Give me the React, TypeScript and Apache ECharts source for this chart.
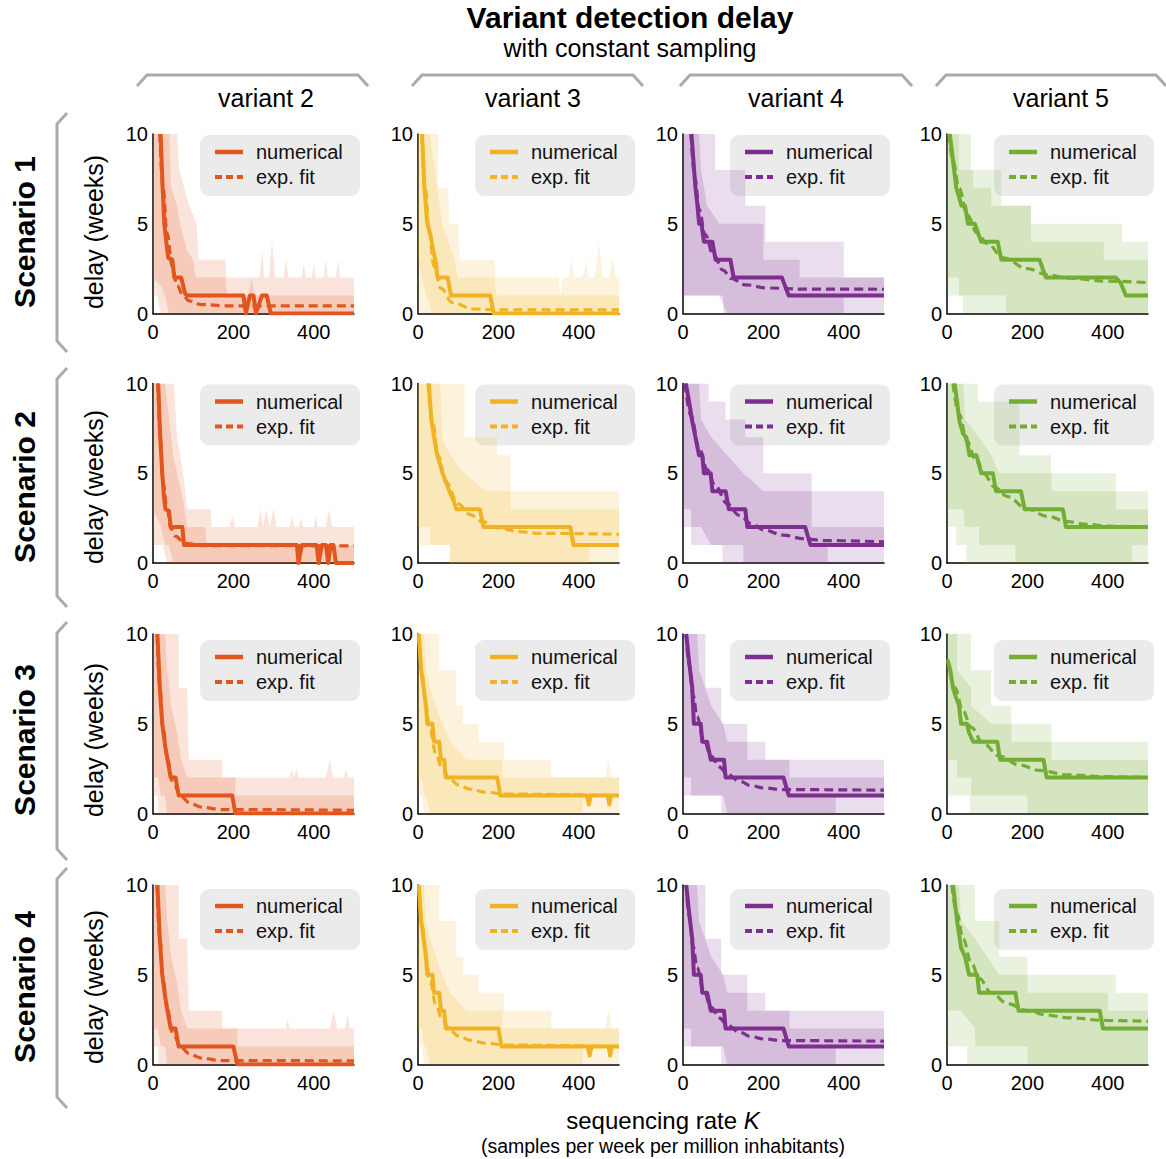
import React, { useEffect, useRef } from "react";
import * as echarts from "echarts";

const FONT = "'Liberation Sans', Arial, Helvetica, sans-serif";

const TITLE = "Variant detection delay";
const SUBTITLE = "with constant sampling";
const VARIANTS = ["variant 2", "variant 3", "variant 4", "variant 5"];
const SCENARIOS = ["Scenario 1", "Scenario 2", "Scenario 3", "Scenario 4"];
const Y_LABEL = "delay (weeks)";
const X_LABEL_MAIN = "sequencing rate ";
const X_LABEL_VAR = "K";
const X_LABEL_SUB = "(samples per week per million inhabitants)";
const LEGEND_NUM = "numerical";
const LEGEND_FIT = "exp. fit";
const COLORS = ["#E1561F", "#F0B323", "#7E2E8E", "#74AD34"];
const X_MIN = 0, X_MAX = 500, X_STEP = 200;
const Y_MIN = 0, Y_MAX = 10, Y_STEP = 5;

// ---------- Scenario 1 ----------
const s1v2Num = [[19,10],[24,7],[28,5],[33,4],[38,3.1],[48,3],[53,2],[70,2],[80,1.1],[85,1],[225,1],[231,0],[241,1],[250,1],[256,0],[271,1],[283,1],[293,0],[500,0]];
const s1v2Fit = [[17,10],[25,7],[35,4.5],[48,2.6],[60,1.55],[75,1],[90,0.7],[120,0.5],[180,0.43],[500,0.42]];
const s1v2Outer = [[0,1,10],[10,1,10],[19,0,10],[60,0,10],[65,0,8],[90,0,6],[108,0,5],[114,0,3],[180,0,3],[182,0,2],[265,0,2],[272,0,3.5],[276,0,2],[288,0,2],[296,0,4],[304,0,2],[325,0,2],[331,0,3],[337,0,2],[370,0,2],[375,0,2.8],[380,0,2],[395,0,2],[400,0,2.7],[405,0,2],[425,0,2],[430,0,3],[435,0,2],[455,0,2],[460,0,3],[465,0,2],[500,0,2]];
const s1v2Inner = [[0,2,10],[20,1.5,10],[30,1,10],[40,0,10],[45,0,7],[60,0,6],[67,0,5],[85,0,3.5],[100,0,3],[106,0,2],[180,0,2],[185,0,1],[238,0,1],[245,0,2],[252,0,1],[500,0,1]];

const s1v3Num = [[10,10],[16,7],[23,5],[31,4.4],[38,3.5],[44,2.9],[48,2.1],[52,2],[74,2],[82,1],[180,1],[188,0],[500,0]];
const s1v3Fit = [[10,10],[18,7],[28,4.5],[40,2.6],[57,1.4],[86,0.6],[137,0.25],[200,0.2],[500,0.2]];
const s1v3Outer = [[0,0,10],[50,0,10],[50,0,7],[75,0,7],[78,0,5],[100,0,5],[104,0,3],[190,0,3],[193,0,2],[350,0,2],[355,0,1],[360,0,2],[375,0,2],[382,0,3],[388,0,2],[410,0,2],[418,0,3],[424,0,2],[440,0,2],[450,0,4],[460,0,2],[475,0,2],[484,0,3],[492,0,2],[500,0,2]];
const s1v3Inner = [[0,3,10],[10,2,10],[20,1,10],[30,0.5,10],[35,0,9],[45,0,7.5],[60,0,5],[75,0,4],[90,0,3],[100,0,2],[190,0,2],[195,0,1],[500,0,1]];

const s1v4Num = [[21,10],[26,8.5],[31,7],[36,6],[40,5],[46,5],[52,4],[73,4],[81,3],[118,3],[126,2],[246,2],[263,1],[500,1]];
const s1v4Fit = [[20,10],[30,7.5],[40,5.8],[55,4.4],[75,3.3],[100,2.4],[120,1.95],[155,1.6],[210,1.42],[300,1.36],[500,1.35]];
const s1v4Outer = [[0,1,10],[80,1,10],[80,1,8],[100,1,8],[100,0,8],[155,0,8],[155,0,6],[205,0,6],[205,0,4],[400,0,4],[400,0,2],[500,0,2]];
const s1v4Inner = [[0,1,10],[40,1,10],[45,1,8],[60,1,6],[90,1,5],[110,0,5],[200,0,5],[200,0,3],[290,0,3],[290,0,2],[400,0,2],[400,1,2],[500,1,2]];

const s1v5Num = [[7,10],[15,8.5],[23,7],[30,6.5],[36,6],[45,6],[52,5],[69,5],[77,4.5],[85,4],[126,4],[135,3],[230,3],[246,2],[420,2],[432,1.7],[445,1],[500,1]];
const s1v5Fit = [[5,10],[15,8.5],[30,7],[50,5.5],[75,4.5],[100,3.9],[140,3.1],[200,2.5],[250,2.15],[300,1.97],[400,1.8],[500,1.72]];
const s1v5Outer = [[0,1,10],[40,1,10],[40,0,10],[60,0,10],[60,0,8],[135,0,8],[135,0,6],[209,0,6],[209,0,5],[436,0,5],[436,0,4],[500,0,4]];
const s1v5Inner = [[0,2,10],[30,2,10],[30,1,8],[65,1,8],[65,1,7],[110,1,7],[110,1,6],[147,1,6],[147,0,6],[209,0,6],[209,0,4],[390,0,4],[390,0,3],[500,0,3]];

// ---------- Scenario 2 ----------
const s2v2Num = [[13,10],[18,7],[23,5],[28,3.5],[31,3],[40,2.9],[44,2],[73,2],[77,1],[358,1],[362,0],[370,1],[407,1],[412,0],[420,1],[430,1],[436,0],[442,1],[449,1],[455,0],[500,0]];
const s2v2Fit = [[12,10],[18,7],[25,4.5],[35,3],[45,1.9],[55,1.5],[80,1.1],[120,0.97],[500,0.95]];
const s2v2Outer = [[0,1,10],[25,1,10],[35,0,10],[52,0,10],[60,0,7],[75,0,5],[85,0,3],[143,0,3],[146,0,2],[190,0,2],[197,0,2.6],[204,0,2],[260,0,2],[267,0,3],[274,0,2],[282,0,3],[290,0,2],[300,0,3],[308,0,2],[340,0,2],[346,0,2.6],[352,0,2],[362,0,2],[368,0,2.5],[374,0,2],[400,0,2],[405,0,2.6],[410,0,2],[430,0,2],[438,0,3],[446,0,2],[500,0,2]];
const s2v2Inner = [[0,3,10],[20,2,10],[30,1,10],[40,1,8],[50,0,6],[60,0,5],[75,0,3.5],[85,0,2],[130,0,2],[133,0,1],[500,0,1]];

const s2v3Num = [[27,10],[33,8],[40,7],[48,6],[55,5.5],[61,5],[70,4.5],[78,4],[88,3.5],[95,3],[154,3],[163,2],[379,2],[387,1],[500,1]];
const s2v3Fit = [[25,10],[35,8],[50,6],[70,4.5],[100,3.3],[130,2.7],[160,2.3],[200,1.95],[250,1.75],[300,1.65],[500,1.6]];
const s2v3Outer = [[0,1,10],[78,1,10],[78,0,10],[116,0,10],[116,0,7],[197,0,7],[197,0,6],[230,0,6],[230,0,4],[500,0,4]];
const s2v3Inner = [[0,2,10],[30,2,10],[30,1,10],[55,1,10],[60,1,7],[80,1,6],[80,0,6],[115,0,5],[170,0,4],[230,0,4],[230,0,3],[425,0,3],[425,1,3],[500,1,3]];

const s2v4Num = [[7,10],[15,9],[23,7.9],[31,7],[40,6],[48,6],[52,5],[69,5],[73,4],[106,4],[114,3],[155,3],[160,2],[304,2],[317,1],[500,1]];
const s2v4Fit = [[5,10],[20,8.2],[40,6.4],[60,5.2],[80,4.3],[110,3.3],[140,2.65],[170,2.2],[200,1.85],[250,1.55],[300,1.35],[350,1.25],[500,1.18]];
const s2v4Outer = [[0,2,10],[20,2,10],[20,1,10],[64,1,10],[64,1,9],[98,1,9],[98,0,9],[106,0,9],[106,0,8],[155,0,8],[155,0,7],[200,0,7],[200,0,5],[320,0,5],[320,0,4],[500,0,4]];
const s2v4Inner = [[0,3,10],[20,3,10],[20,2,10],[40,2,10],[45,2,8],[70,1,7],[110,1,6],[150,1,5],[150,0,5],[200,0,4],[320,0,4],[320,0,2],[360,0,2],[360,1,2],[500,1,2]];

const s2v5Num = [[19,10],[25,9],[31,7.9],[40,7.2],[48,7],[52,6.5],[56,6],[73,6],[80,5.5],[85,5],[114,5],[122,4],[184,4],[193,3],[288,3],[296,2],[500,2]];
const s2v5Fit = [[15,10],[30,8.3],[50,6.8],[70,5.8],[90,5],[120,4.2],[150,3.7],[200,3.0],[250,2.6],[300,2.3],[350,2.15],[400,2.05],[500,2.0]];
const s2v5Outer = [[0,2,10],[23,2,10],[23,1,10],[48,1,10],[48,0,10],[77,0,10],[77,0,9],[180,0,9],[180,0,6],[259,0,6],[259,0,5],[420,0,5],[420,0,4],[500,0,4]];
const s2v5Inner = [[0,3,10],[40,3,10],[45,2,8],[80,2,7],[80,1,7],[110,1,6],[130,1,5],[170,1,5],[170,0,5],[260,0,5],[260,0,4],[420,0,4],[420,0,3],[460,0,3],[460,1,3],[500,1,3]];

// ---------- Scenario 3 ----------
const s3v2Num = [[11,10],[17,7],[23,5],[30,3.8],[36,3],[40,2.5],[44,2],[56,2],[64,1],[197,1],[205,0],[500,0]];
const s3v2Fit = [[10,10],[17,7],[25,4.8],[35,3.1],[50,1.7],[70,0.95],[90,0.6],[120,0.35],[170,0.22],[500,0.18]];
const s3v2Outer = [[0,1,10],[13,1,10],[13,0,10],[64,0,10],[64,0,7],[85,0,7],[89,0,3],[172,0,3],[172,0,2],[340,0,2],[345,0,2.5],[350,0,2],[357,0,2.5],[362,0,2],[430,0,2],[440,0,3],[448,0,2],[475,0,2],[480,0,2.5],[485,0,2],[500,0,2]];
const s3v2Inner = [[0,2,10],[12,2,10],[20,1,10],[30,1,10],[35,0,8],[45,0,6],[60,0,4.5],[70,0,3],[85,0,2],[205,0,2],[205,0,1],[500,0,1]];

const s3v3Num = [[2,10],[8,8],[14,7],[20,6],[23,5],[36,5],[40,4],[53,4],[57,3],[65,3],[69,2],[197,2],[205,1],[420,1],[425,0.5],[430,1],[472,1],[476,0.5],[480,1],[500,1]];
const s3v3Fit = [[2,10],[10,7.8],[20,5.9],[30,4.6],[45,3.3],[60,2.5],[80,1.9],[100,1.6],[130,1.35],[170,1.18],[220,1.08],[500,1.0]];
const s3v3Outer = [[0,1,10],[10,1,10],[15,0,10],[53,0,10],[53,0,8],[95,0,8],[95,0,6],[112,0,6],[112,0,5],[150,0,5],[150,0,4],[214,0,4],[214,0,3],[332,0,3],[332,0,2],[465,0,2],[474,0,3],[482,0,2],[500,0,2]];
const s3v3Inner = [[0,2,10],[10,2,10],[15,1,10],[20,1,8],[30,0,7],[45,0,6],[60,0,5],[80,0,4],[100,0,3.5],[120,0,3],[210,0,3],[210,0,2],[410,0,2],[410,1,2],[500,1,2]];

const s3v4Num = [[8,10],[15,8.5],[23,7],[27,5],[44,5],[48,4],[60,4],[69,3],[102,3],[106,2],[250,2],[263,1],[500,1]];
const s3v4Fit = [[8,10],[15,8.3],[25,6.6],[35,5.4],[50,4.2],[70,3.2],[90,2.6],[110,2.2],[140,1.8],[170,1.55],[200,1.42],[250,1.33],[500,1.3]];
const s3v4Outer = [[0,1,10],[56,1,10],[56,1,7],[95,1,7],[95,0,7],[95,0,5],[160,0,5],[160,0,4],[205,0,4],[205,0,3],[500,0,3]];
const s3v4Inner = [[0,2,10],[20,2,10],[20,1,10],[35,1,10],[40,1,8],[55,1,7],[70,1,6],[100,1,5],[110,0,4],[160,0,4],[160,0,3],[265,0,3],[265,0,2],[380,0,2],[380,1,2],[500,1,2]];

const s3v5Num = [[2,8.5],[8,8],[15,7],[22,6.5],[30,6],[35,5],[50,5],[55,4.5],[65,4],[125,4],[132,3],[240,3],[248,2],[500,2]];
const s3v5Fit = [[2,8.6],[20,7],[40,5.7],[60,4.8],[90,3.9],[130,3.2],[180,2.7],[230,2.4],[300,2.15],[400,2.05],[500,2.0]];
const s3v5Outer = [[0,1,10],[57,1,10],[57,0,10],[60,0,10],[60,0,8],[110,0,8],[110,0,6],[160,0,6],[160,0,5],[260,0,5],[260,0,4],[500,0,4]];
const s3v5Inner = [[0,3,10],[25,3,10],[25,2,8],[60,2,7],[60,1,6],[110,1,5],[160,1,5],[160,1,4],[200,1,4],[200,0,4],[260,0,4],[260,0,3],[500,0,3]];

// ---------- Scenario 4 ----------
const s4v2Num = [[11,10],[17,7],[23,5],[30,3.8],[36,3],[40,2.5],[44,2],[56,2],[64,1],[200,1],[210,0],[500,0]];
const s4v2Fit = [[10,10],[17,7],[25,4.8],[35,3.1],[50,1.7],[70,0.95],[90,0.6],[120,0.35],[170,0.22],[500,0.2]];
const s4v2Outer = [[0,1,10],[13,1,10],[13,0,10],[64,0,10],[64,0,7],[85,0,7],[89,0,3],[172,0,3],[172,0,2],[330,0,2],[335,0,2.5],[340,0,2],[440,0,2],[450,0,3],[458,0,2],[478,0,2],[484,0,2.8],[490,0,2],[500,0,2]];
const s4v2Inner = [[0,2,10],[12,2,10],[20,1,10],[30,1,10],[35,0,8],[45,0,6],[60,0,4.5],[70,0,3],[85,0,2],[210,0,2],[210,0,1],[500,0,1]];

const s4v3Num = [[2,10],[8,8],[14,7],[20,6],[23,5],[36,5],[40,4],[53,4],[57,3],[65,3],[69,2],[200,2],[208,1],[422,1],[427,0.5],[432,1],[474,1],[478,0.5],[482,1],[500,1]];
const s4v3Fit = [[2,10],[10,7.8],[20,5.9],[30,4.6],[45,3.3],[60,2.5],[80,1.9],[100,1.6],[130,1.35],[170,1.18],[220,1.08],[500,1.0]];
const s4v3Outer = [[0,1,10],[10,1,10],[15,0,10],[53,0,10],[53,0,8],[95,0,8],[95,0,6],[112,0,6],[112,0,5],[150,0,5],[150,0,4],[214,0,4],[214,0,3],[332,0,3],[332,0,2],[465,0,2],[474,0,3],[482,0,2],[500,0,2]];
const s4v3Inner = [[0,2,10],[10,2,10],[15,1,10],[20,1,8],[30,0,7],[45,0,6],[60,0,5],[80,0,4],[100,0,3.5],[120,0,3],[210,0,3],[210,0,2],[410,0,2],[410,1,2],[500,1,2]];

const s4v4Num = [[8,10],[15,8.5],[23,7],[27,5],[44,5],[48,4],[60,4],[69,3],[102,3],[106,2],[250,2],[263,1],[500,1]];
const s4v4Fit = [[8,10],[15,8.3],[25,6.6],[35,5.4],[50,4.2],[70,3.2],[90,2.6],[110,2.2],[140,1.8],[170,1.55],[200,1.42],[250,1.33],[500,1.3]];
const s4v4Outer = [[0,1,10],[56,1,10],[56,1,7],[95,1,7],[95,0,7],[95,0,5],[160,0,5],[160,0,4],[205,0,4],[205,0,3],[500,0,3]];
const s4v4Inner = [[0,2,10],[20,2,10],[20,1,10],[35,1,10],[40,1,8],[55,1,7],[70,1,6],[100,1,5],[110,0,4],[160,0,4],[160,0,3],[265,0,3],[265,0,2],[380,0,2],[380,1,2],[500,1,2]];

const s4v5Num = [[15,10],[25,8],[35,6.5],[45,6],[55,5],[75,5],[80,4],[170,4],[178,3],[380,3],[388,2],[500,2]];
const s4v5Fit = [[12,10],[25,8.4],[40,7],[60,5.7],[80,4.8],[110,4],[150,3.4],[200,3],[250,2.75],[300,2.6],[400,2.45],[500,2.4]];
const s4v5Outer = [[0,1,10],[50,1,10],[50,0,10],[70,0,10],[70,0,8],[130,0,8],[130,0,6],[200,0,6],[200,0,5],[420,0,5],[420,0,4],[500,0,4]];
const s4v5Inner = [[0,3,10],[30,3,10],[35,3,8],[70,2,7],[70,1,7],[100,1,6],[130,1,5],[200,1,5],[200,0,4],[400,0,4],[400,0,3],[500,0,3]];

const PANELS = [
  [
    { num: s1v2Num, fit: s1v2Fit, outer: s1v2Outer, inner: s1v2Inner },
    { num: s1v3Num, fit: s1v3Fit, outer: s1v3Outer, inner: s1v3Inner },
    { num: s1v4Num, fit: s1v4Fit, outer: s1v4Outer, inner: s1v4Inner },
    { num: s1v5Num, fit: s1v5Fit, outer: s1v5Outer, inner: s1v5Inner },
  ],
  [
    { num: s2v2Num, fit: s2v2Fit, outer: s2v2Outer, inner: s2v2Inner },
    { num: s2v3Num, fit: s2v3Fit, outer: s2v3Outer, inner: s2v3Inner },
    { num: s2v4Num, fit: s2v4Fit, outer: s2v4Outer, inner: s2v4Inner },
    { num: s2v5Num, fit: s2v5Fit, outer: s2v5Outer, inner: s2v5Inner },
  ],
  [
    { num: s3v2Num, fit: s3v2Fit, outer: s3v2Outer, inner: s3v2Inner },
    { num: s3v3Num, fit: s3v3Fit, outer: s3v3Outer, inner: s3v3Inner },
    { num: s3v4Num, fit: s3v4Fit, outer: s3v4Outer, inner: s3v4Inner },
    { num: s3v5Num, fit: s3v5Fit, outer: s3v5Outer, inner: s3v5Inner },
  ],
  [
    { num: s4v2Num, fit: s4v2Fit, outer: s4v2Outer, inner: s4v2Inner },
    { num: s4v3Num, fit: s4v3Fit, outer: s4v3Outer, inner: s4v3Inner },
    { num: s4v4Num, fit: s4v4Fit, outer: s4v4Outer, inner: s4v4Inner },
    { num: s4v5Num, fit: s4v5Fit, outer: s4v5Outer, inner: s4v5Inner },
  ],
];

// ---------- layout ----------
const COL_LEFT = [153, 418, 683, 947];
const ROW_TOP = [134, 383.5, 634, 885];
const LEGEND_DX = [47, 57, 47, 47];
const LEGEND_DY = [1, 1, 6, 4];
const PW = 201;
const PH = 179.5;
const BRACKET = "#ababab";

function rgba(hex: string, a: number) {
  const n = parseInt(hex.slice(1), 16);
  return `rgba(${(n >> 16) & 255},${(n >> 8) & 255},${n & 255},${a})`;
}

function bandSeries(data: number[][], fill: string, idx: number, z: number) {
  return {
    type: "custom",
    xAxisIndex: idx,
    yAxisIndex: idx,
    data,
    z,
    silent: true,
    clip: true,
    encode: { x: 0, y: [1, 2] },
    renderItem: (params: any, api: any) => {
      if (params.dataIndex !== 0) return null;
      const pts: number[][] = [];
      for (let i = 0; i < data.length; i++) pts.push(api.coord([data[i][0], data[i][2]]));
      for (let i = data.length - 1; i >= 0; i--) pts.push(api.coord([data[i][0], data[i][1]]));
      return { type: "polygon", shape: { points: pts }, style: { fill } };
    },
  };
}

function buildOption() {
  const grid: any[] = [];
  const xAxis: any[] = [];
  const yAxis: any[] = [];
  const series: any[] = [];
  const graphic: any[] = [];
  const axisLine = { show: true, lineStyle: { color: "#000", width: 1.5 } };
  const lbl = { color: "#000", fontSize: 20, fontFamily: FONT };

  PANELS.forEach((row, r) => {
    row.forEach((p, c) => {
      const idx = r * 4 + c;
      const color = COLORS[c];
      grid.push({ left: COL_LEFT[c], top: ROW_TOP[r], width: PW, height: PH });
      xAxis.push({
        gridIndex: idx, type: "value", min: X_MIN, max: X_MAX, interval: X_STEP,
        axisLine, axisTick: { show: false }, splitLine: { show: false },
        axisLabel: { ...lbl, margin: 8, showMaxLabel: false },
      });
      yAxis.push({
        gridIndex: idx, type: "value", min: Y_MIN, max: Y_MAX, interval: Y_STEP,
        axisLine, axisTick: { show: false }, splitLine: { show: false },
        axisLabel: { ...lbl, margin: 5 },
      });
      series.push(bandSeries(p.outer, rgba(color, 0.16), idx, 1));
      series.push(bandSeries(p.inner, rgba(color, 0.18), idx, 2));
      series.push({
        type: "line", name: LEGEND_NUM, xAxisIndex: idx, yAxisIndex: idx, data: p.num,
        showSymbol: false, symbol: "none", z: 3, silent: true,
        lineStyle: { color, width: 4, join: "round" },
      });
      series.push({
        type: "line", name: LEGEND_FIT, xAxisIndex: idx, yAxisIndex: idx, data: p.fit,
        showSymbol: false, symbol: "none", z: 4, silent: true,
        smooth: 0.4, smoothMonotone: "x",
        lineStyle: { color, width: 3.2, type: [9, 5] },
      });

      // legend box
      const lx = COL_LEFT[c] + LEGEND_DX[c];
      const ly = ROW_TOP[r] + LEGEND_DY[r];
      graphic.push({
        type: "group", x: lx, y: ly, z: 10,
        children: [
          { type: "rect", shape: { x: 0, y: 0, width: 160, height: 61, r: 9 }, style: { fill: "#ebebeb" } },
          { type: "line", shape: { x1: 15, y1: 17, x2: 43, y2: 17 }, style: { stroke: color, lineWidth: 4.5 } },
          { type: "line", shape: { x1: 15, y1: 42, x2: 43, y2: 42 }, style: { stroke: color, lineWidth: 4, lineDash: [7, 4] } },
          { type: "text", x: 56, y: 17, style: { text: LEGEND_NUM, fill: "#111", fontSize: 20, fontFamily: FONT, textVerticalAlign: "middle", verticalAlign: "middle" } },
          { type: "text", x: 56, y: 42, style: { text: LEGEND_FIT, fill: "#111", fontSize: 20, fontFamily: FONT, textVerticalAlign: "middle", verticalAlign: "middle" } },
        ],
      });
    });
  });

  // titles
  graphic.push({ type: "text", x: 630, y: 17, style: { text: TITLE, fill: "#000", fontSize: 30, fontWeight: "bold", fontFamily: FONT, textAlign: "center", textVerticalAlign: "middle", verticalAlign: "middle" } });
  graphic.push({ type: "text", x: 630, y: 48, style: { text: SUBTITLE, fill: "#000", fontSize: 25, fontFamily: FONT, textAlign: "center", textVerticalAlign: "middle", verticalAlign: "middle" } });

  // column headers + brackets
  const colCenters = [266, 533, 796, 1061];
  const brX = [[137, 368], [412, 643], [680, 912], [936, 1166]];
  VARIANTS.forEach((v, c) => {
    graphic.push({ type: "text", x: colCenters[c], y: 98, style: { text: v, fill: "#000", fontSize: 25, fontFamily: FONT, textAlign: "center", textVerticalAlign: "middle", verticalAlign: "middle" } });
    const [a, b] = brX[c];
    graphic.push({ type: "polyline", shape: { points: [[a, 86], [a + 10, 75], [b - 10, 75], [b, 86]] }, style: { stroke: BRACKET, lineWidth: 3, fill: null } });
  });

  // row labels + brackets
  const rowCenters = [232, 487, 740, 987];
  const brY = [[113, 352], [368, 607], [622, 860], [868, 1108]];
  SCENARIOS.forEach((s, r) => {
    graphic.push({ type: "text", x: 24, y: rowCenters[r], rotation: Math.PI / 2, style: { text: s, fill: "#000", fontSize: 30, fontWeight: "bold", fontFamily: FONT, textAlign: "center", textVerticalAlign: "middle", verticalAlign: "middle" } });
    graphic.push({ type: "text", x: 94, y: rowCenters[r], rotation: Math.PI / 2, style: { text: Y_LABEL, fill: "#000", fontSize: 25, fontFamily: FONT, textAlign: "center", textVerticalAlign: "middle", verticalAlign: "middle" } });
    const [a, b] = brY[r];
    graphic.push({ type: "polyline", shape: { points: [[67, a], [57, a + 11], [57, b - 11], [67, b]] }, style: { stroke: BRACKET, lineWidth: 3, fill: null } });
  });

  // x label
  graphic.push({
    type: "text", x: 663, y: 1120,
    style: {
      text: `{a|${X_LABEL_MAIN}}{b|${X_LABEL_VAR}}`,
      rich: {
        a: { fontSize: 24, fontFamily: FONT, fill: "#000", color: "#000", lineHeight: 24 },
        b: { fontSize: 24, fontFamily: FONT, fontStyle: "italic", fill: "#000", color: "#000", lineHeight: 24 },
      },
      textAlign: "center", textVerticalAlign: "middle", verticalAlign: "middle",
    },
  });
  graphic.push({ type: "text", x: 663, y: 1146, style: { text: X_LABEL_SUB, fill: "#000", fontSize: 19.5, fontFamily: FONT, textAlign: "center", textVerticalAlign: "middle", verticalAlign: "middle" } });

  return {
    animation: false,
    backgroundColor: "#fff",
    grid, xAxis, yAxis, series, graphic,
  };
}

export default function App() {
  const ref = useRef<HTMLDivElement>(null);
  useEffect(() => {
    if (!ref.current) return;
    const chart = echarts.init(ref.current, undefined, { renderer: "svg" });
    chart.setOption(buildOption() as any);
    return () => chart.dispose();
  }, []);
  return (
    <div
      ref={ref}
      style={{ position: "absolute", left: 0, top: 0, width: 1166, height: 1159 }}
    />
  );
}
